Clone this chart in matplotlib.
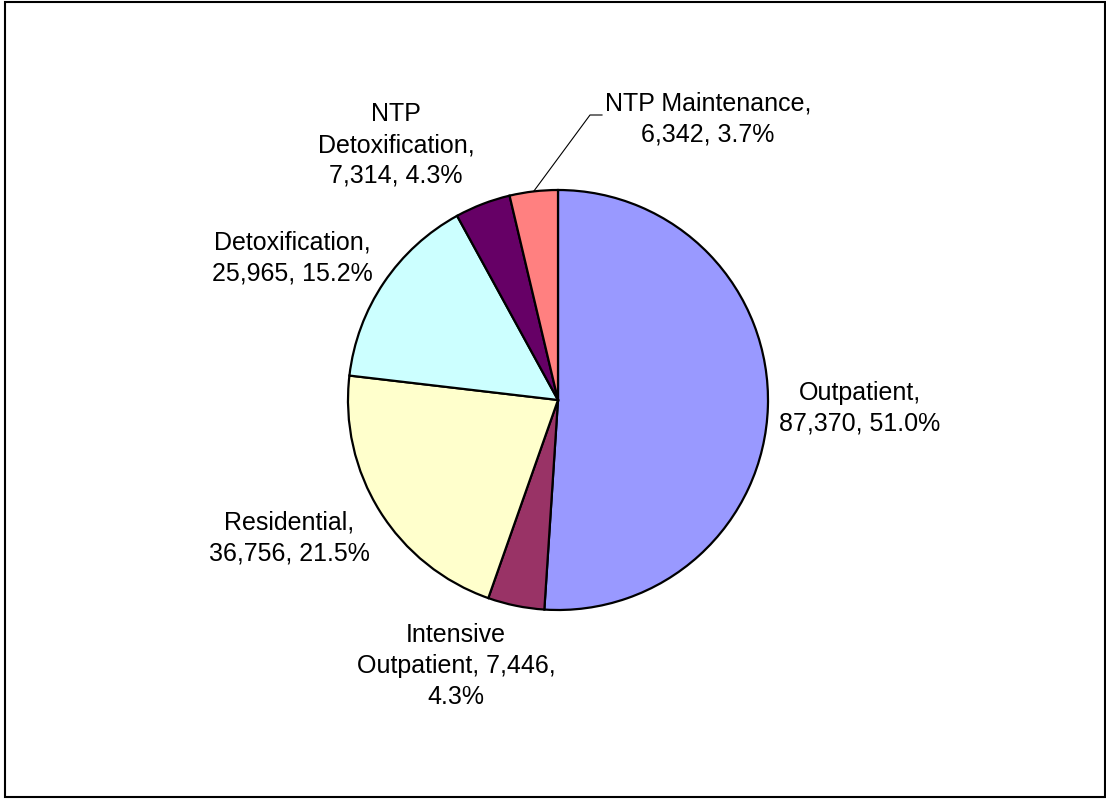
import numpy as np
import matplotlib.pyplot as plt
from matplotlib.patches import Rectangle

plt.rcParams['font.family'] = ['Liberation Sans', 'DejaVu Sans']

# data
categories = ['Outpatient', 'Intensive Outpatient', 'Residential',
              'Detoxification', 'NTP Detoxification', 'NTP Maintenance']
values = [87370, 7446, 36756, 25965, 7314, 6342]
colors = ['#9999FF', '#993366', '#FFFFCC', '#CCFFFF', '#660066', '#FF8080']

total = sum(values)
pcts = [v / total * 100 for v in values]

fig = plt.figure(figsize=(11.06, 7.99), dpi=100)
ax = fig.add_axes([0, 0, 1, 1])
ax.set_xlim(0, 1106)
ax.set_ylim(0, 799)
ax.set_aspect('equal')
ax.axis('off')

cx, cy, r = 558, 399, 210
wedges, _ = ax.pie(values, colors=colors, startangle=90, counterclock=False,
                   center=(cx, cy), radius=r,
                   wedgeprops=dict(edgecolor='black', linewidth=1.6))
ax.set_xlim(0, 1106)
ax.set_ylim(0, 799)

# label text, laid out like the original
texts = [
    f"{categories[0]},\n{values[0]:,}, {pcts[0]:.1f}%",
    f"Intensive\nOutpatient, {values[1]:,},\n{pcts[1]:.1f}%",
    f"{categories[2]},\n{values[2]:,}, {pcts[2]:.1f}%",
    f"{categories[3]},\n{values[3]:,}, {pcts[3]:.1f}%",
    f"NTP\nDetoxification,\n{values[4]:,}, {pcts[4]:.1f}%",
    f"{categories[5]},\n{values[5]:,}, {pcts[5]:.1f}%",
]
label_pos = [(860, 391), (456, 133), (289, 261), (292, 541), (396, 654), (708, 680)]

for t, (x, y) in zip(texts, label_pos):
    ax.text(x, y, t, ha='center', va='center', fontsize=18, linespacing=1.36)

# leader line for NTP Maintenance
w = wedges[5]
ang = np.deg2rad((w.theta1 + w.theta2) / 2)
px, py = cx + r * np.cos(ang), cy + r * np.sin(ang)
ax.plot([px, 590, 602], [py, 684, 684], color='black', linewidth=0.8)

# outer frame
fig.patches.append(Rectangle((5 / 1106, 2 / 799), 1100 / 1106, 795 / 799,
                             transform=fig.transFigure, fill=False,
                             edgecolor='black', linewidth=1.5))

fig.savefig('out.png', dpi=100)
